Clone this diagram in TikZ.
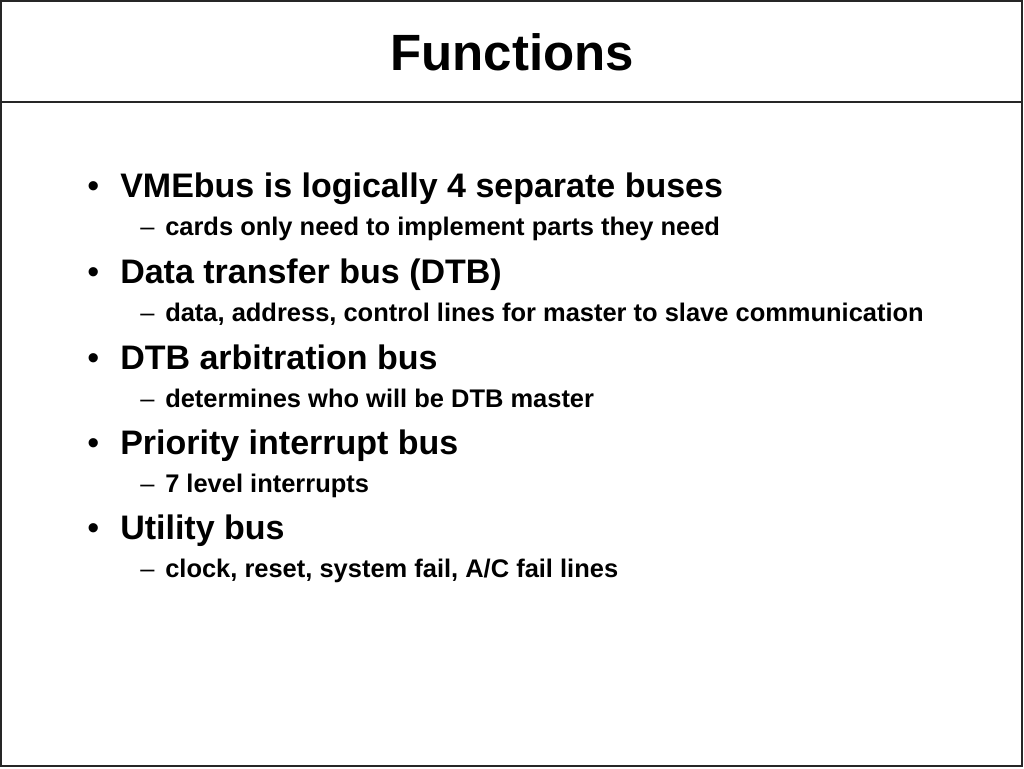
\documentclass[tikz,border=0pt]{standalone}
\usepackage{fontspec}
\setmainfont{Liberation Sans}
\begin{document}
\begin{tikzpicture}[x=0.75pt,y=-0.75pt,
  frameline/.style={draw=black!85,line width=1.5pt},
  titletext/.style={inner sep=0pt,anchor=base,font=\fontsize{38.25}{44}\bfseries\selectfont},
  lvlone/.style={inner sep=0pt,anchor=base west,font=\fontsize{25.5}{30}\bfseries\selectfont},
  lvltwo/.style={inner sep=0pt,anchor=base west,font=\fontsize{19.1}{22}\bfseries\selectfont},
  bulletmark/.style={inner sep=0pt,anchor=base west,font=\fontsize{25.5}{30}\selectfont},
  dashmark/.style={inner sep=0pt,anchor=base west,font=\fontsize{19.1}{22}\selectfont}]
\useasboundingbox (0,0) rectangle (1024,768);
\fill[white] (0,0) rectangle (1024,768);
\draw[frameline] (1,1) rectangle (1022,766);
\coordinate (dl) at (1,102);
\coordinate (dr) at (1022,102);
\draw[draw=black!85,line width=1pt] (dl) -- (dr);
\node[titletext] (title) at (512,70) {Functions};
% level one
\node[bulletmark] (b1) at (87,197) {•};
\node[lvlone] (t1) at (120,197) {VMEbus is logically 4 separate buses};
\node[dashmark] (d1) at (140,235) {–};
\node[lvltwo] (s1) at (165,235) {cards only need to implement parts they need};
\node[bulletmark] (b2) at (87,283) {•};
\node[lvlone] (t2) at (120,283) {Data transfer bus (DTB)};
\node[dashmark] (d2) at (140,321) {–};
\node[lvltwo] (s2) at (165,321) {data, address, control lines for master to slave communication};
\node[bulletmark] (b3) at (87,369) {•};
\node[lvlone] (t3) at (120,369) {DTB arbitration bus};
\node[dashmark] (d3) at (140,407) {–};
\node[lvltwo] (s3) at (165,407) {determines who will be DTB master};
\node[bulletmark] (b4) at (87,454) {•};
\node[lvlone] (t4) at (120,454) {Priority interrupt bus};
\node[dashmark] (d4) at (140,492) {–};
\node[lvltwo] (s4) at (165,492) {7 level interrupts};
\node[bulletmark] (b5) at (87,539) {•};
\node[lvlone] (t5) at (120,539) {Utility bus};
\node[dashmark] (d5) at (140,577) {–};
\node[lvltwo] (s5) at (165,577) {clock, reset, system fail, A/C fail lines};
\end{tikzpicture}
\end{document}
